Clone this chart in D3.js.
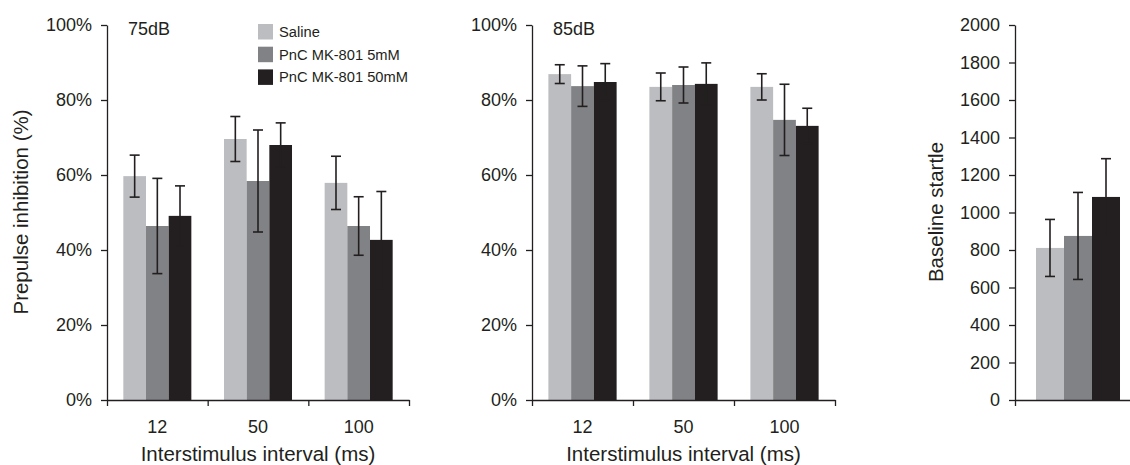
<!DOCTYPE html>
<html>
<head>
<meta charset="utf-8">
<script src="https://cdn.jsdelivr.net/npm/d3@7"></script>
<style>
  html, body { margin: 0; padding: 0; background: #fff; }
  svg { display: block; }
  text { font-family: "Liberation Sans", Arial, sans-serif; fill: #231f20; }
</style>
</head>
<body>
<svg id="chart" width="1130" height="465"></svg>
<script>
// ---------------- data ----------------
const intervals = ["12", "50", "100"];
const seriesNames = ["Saline", "PnC MK-801 5mM", "PnC MK-801 50mM"];
const seriesColors = ["#bcbdc0", "#808285", "#231f20"];

// 75 dB prepulse inhibition (%), one array per series, columns = intervals
const pi75Saline = [59.7, 69.6, 57.9];
const pi75Saline_err = [5.6, 6.0, 7.1];
const pi75Mk5 = [46.4, 58.4, 46.4];
const pi75Mk5_err = [12.7, 13.6, 7.8];
const pi75Mk50 = [49.1, 68.0, 42.7];
const pi75Mk50_err = [8.0, 5.9, 12.9];

// 85 dB prepulse inhibition (%)
const pi85Saline = [86.9, 83.5, 83.5];
const pi85Saline_err = [2.5, 3.7, 3.5];
const pi85Mk5 = [83.7, 84.0, 74.7];
const pi85Mk5_err = [5.4, 4.8, 9.5];
const pi85Mk50 = [84.8, 84.3, 73.1];
const pi85Mk50_err = [4.9, 5.6, 4.7];

// Baseline startle
const startleValues = [811, 875, 1083];
const startleErr = [152, 232, 204];

const piTicks = [0, 20, 40, 60, 80, 100];
const startleTicks = [0, 200, 400, 600, 800, 1000, 1200, 1400, 1600, 1800, 2000];

const panelTitles = ["75dB", "85dB"];
const yTitlePI = "Prepulse inhibition (%)";
const yTitleStartle = "Baseline startle";
const xTitle = "Interstimulus interval (ms)";

// ---------------- drawing ----------------
const svg = d3.select("#chart");
const ink = "#231f20";
const TICK_FONT = "18px";
const TITLE_FONT = "20.5px";

const yTop = 25, yBottom = 400;

function styleAxis(g) {
  g.selectAll("path.domain").attr("stroke", ink).attr("stroke-width", 1.3);
  g.selectAll(".tick line").attr("stroke", ink).attr("stroke-width", 1.3);
  g.selectAll(".tick text").attr("fill", ink).style("font-size", TICK_FONT)
    .style("font-family", '"Liberation Sans", Arial, sans-serif');
}

function drawErrorBar(g, cx, yHi, yLo) {
  const eg = g.append("g").attr("stroke", ink).attr("stroke-width", 1.6);
  eg.append("line").attr("x1", cx).attr("x2", cx).attr("y1", yHi).attr("y2", yLo);
  eg.append("line").attr("x1", cx - 5).attr("x2", cx + 5).attr("y1", yHi).attr("y2", yHi);
  eg.append("line").attr("x1", cx - 5).attr("x2", cx + 5).attr("y1", yLo).attr("y2", yLo);
}

function drawPIPanel(x0px, x1px, title, vals, errs) {
  const x0 = d3.scaleBand().domain(intervals).range([x0px, x1px]).padding(0);
  const x1 = d3.scaleBand().domain(seriesNames).range([0, x0.bandwidth()])
    .paddingInner(0).paddingOuter(0.72);
  const y = d3.scaleLinear().domain([0, 100]).range([yBottom, yTop]);

  const g = svg.append("g");

  seriesNames.forEach((s, si) => {
    g.selectAll(null).data(intervals).enter().append("rect")
      .attr("x", d => x0(d) + x1(s))
      .attr("y", (d, i) => y(vals[si][i]))
      .attr("width", x1.bandwidth())
      .attr("height", (d, i) => y(0) - y(vals[si][i]))
      .attr("fill", seriesColors[si]);
  });

  seriesNames.forEach((s, si) => {
    intervals.forEach((d, i) => {
      const cx = x0(d) + x1(s) + x1.bandwidth() / 2;
      const v = vals[si][i], e = errs[si][i];
      drawErrorBar(g, cx, y(v + e), y(v - e));
    });
  });

  const ya = g.append("g").attr("transform", `translate(${x0px},0)`)
    .call(d3.axisLeft(y).tickValues(piTicks).tickFormat(d => d + "%").tickSize(6).tickSizeOuter(0).tickPadding(9));
  styleAxis(ya);

  const boundaries = intervals.map(d => x0(d)).concat([x1px]);
  const xb = d3.scaleLinear().domain([x0px, x1px]).range([x0px, x1px]);
  const xa = g.append("g").attr("transform", `translate(0,${yBottom})`)
    .call(d3.axisBottom(xb).tickValues(boundaries).tickFormat("").tickSize(6).tickSizeOuter(0));
  styleAxis(xa);
  const xl = g.append("g").attr("transform", `translate(0,${yBottom})`)
    .call(d3.axisBottom(x0).tickSize(0).tickPadding(20));
  xl.select("path.domain").remove();
  styleAxis(xl);

  g.append("text").attr("x", x0px + 21).attr("y", 35).style("font-size", TICK_FONT).text(title);

  g.append("text").attr("x", (x0px + x1px) / 2).attr("y", 461).attr("text-anchor", "middle")
    .style("font-size", TITLE_FONT).text(xTitle);
}

drawPIPanel(107, 409, panelTitles[0],
  [pi75Saline, pi75Mk5, pi75Mk50], [pi75Saline_err, pi75Mk5_err, pi75Mk50_err]);
drawPIPanel(532, 835, panelTitles[1],
  [pi85Saline, pi85Mk5, pi85Mk50], [pi85Saline_err, pi85Mk5_err, pi85Mk50_err]);

svg.append("text").attr("transform", `translate(28,212) rotate(-90)`).attr("text-anchor", "middle")
  .style("font-size", TITLE_FONT).text(yTitlePI);

// legend
const legend = svg.append("g").attr("transform", "translate(258,24)");
seriesNames.forEach((s, i) => {
  const lg = legend.append("g").attr("transform", `translate(0,${i * 22.7})`);
  lg.append("rect").attr("width", 15).attr("height", 15.5).attr("fill", seriesColors[i]);
  lg.append("text").attr("x", 21).attr("y", 13).style("font-size", "14.7px").text(s);
});

// right panel: baseline startle
(function () {
  const xs = d3.scaleBand().domain(seriesNames).range([1036, 1120]).padding(0);
  const y = d3.scaleLinear().domain([0, 2000]).range([yBottom, yTop]);
  const g = svg.append("g");
  g.selectAll(null).data(seriesNames).enter().append("rect")
    .attr("x", d => xs(d)).attr("y", (d, i) => y(startleValues[i]))
    .attr("width", xs.bandwidth()).attr("height", (d, i) => y(0) - y(startleValues[i]))
    .attr("fill", (d, i) => seriesColors[i]);
  seriesNames.forEach((s, i) => {
    const cx = xs(s) + xs.bandwidth() / 2;
    const v = startleValues[i], e = startleErr[i];
    drawErrorBar(g, cx, y(v + e), y(v - e));
  });
  const ya = g.append("g").attr("transform", "translate(1015,0)")
    .call(d3.axisLeft(y).tickValues(startleTicks).tickFormat(d3.format("d")).tickSize(6).tickSizeOuter(0).tickPadding(9));
  styleAxis(ya);
  const xb = d3.scaleLinear().domain([1015, 1130]).range([1015, 1130]);
  const xa = g.append("g").attr("transform", `translate(0,${yBottom})`)
    .call(d3.axisBottom(xb).tickValues([1015]).tickFormat("").tickSize(6).tickSizeOuter(0));
  styleAxis(xa);
  svg.append("text").attr("transform", `translate(943,212) rotate(-90)`).attr("text-anchor", "middle")
    .style("font-size", TITLE_FONT).text(yTitleStartle);
})();
</script>
</body>
</html>
